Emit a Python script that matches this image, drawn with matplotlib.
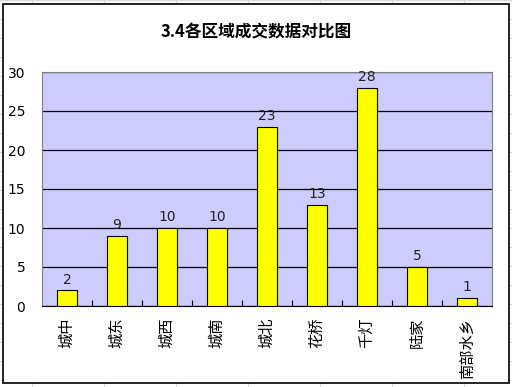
import matplotlib.pyplot as plt
from matplotlib.patches import Rectangle
from matplotlib.lines import Line2D

plt.rcParams['font.family'] = ['Noto Sans CJK SC', 'DejaVu Sans']

regions = ["城中", "城东", "城西", "城南", "城北", "花桥", "千灯", "陆家", "南部水乡"]
deals = [2, 9, 10, 10, 23, 13, 28, 5, 1]
y_ticks = [0, 5, 10, 15, 20, 25, 30]

W, H = 512, 387
fig = plt.figure(figsize=(W / 100, H / 100), dpi=100)

# spreadsheet grid behind the chart
for x in [32, 104, 176, 248, 320, 392, 464]:
    fig.add_artist(Line2D([x / W, x / W], [0, 1], color="#d8d8d8", lw=0.8, zorder=-3))
for y in range(0, H, 19):
    fig.add_artist(Line2D([0, 1], [1 - y / H, 1 - y / H], color="#d8d8d8", lw=0.8, zorder=-3))

# chart frame
fig.add_artist(Rectangle((3 / W, 4 / H), 506 / W, 379 / H, facecolor="white",
                         edgecolor="black", lw=1.2, transform=fig.transFigure, zorder=-2))

ax = fig.add_axes([42 / W, 1 - 306 / H, 450 / W, 234 / H])
ax.set_zorder(2)
ax.set_facecolor("#ccccff")
x = range(len(regions))
ax.bar(x, deals, width=0.4, color="#ffff00", edgecolor="black", lw=0.8, zorder=3)
for i, v in enumerate(deals):
    ax.text(i, v + 0.5, str(v), ha="center", va="bottom", fontsize=10,
            family="DejaVu Sans", color="#222222")

ax.set_xlim(-0.5, len(regions) - 0.5)
ax.set_ylim(0, 30)
ax.set_yticks(y_ticks)
ax.tick_params(axis="y", length=0, labelsize=10, pad=12)
for lab in ax.get_yticklabels():
    lab.set_family("DejaVu Sans")
ax.yaxis.grid(True, color="black", lw=0.9, zorder=1)
ax.set_axisbelow(True)

ax.set_xticks([i + 0.5 for i in range(len(regions) - 1)])
ax.set_xticklabels([])
ax.tick_params(axis="x", direction="in", length=4, width=0.8)
for i, name in enumerate(regions):
    ax.text(i, -1.5, name, ha="center", va="top", fontsize=11, rotation=90,
            rotation_mode="default")

for side in ["top", "right"]:
    ax.spines[side].set_color("#808080")
ax.spines["left"].set_color("#808080")
ax.spines["bottom"].set_color("black")

fig.text(0.5, 1 - 32 / H, "3.4各区域成交数据对比图", ha="center", va="center",
         fontsize=12, fontweight="bold", zorder=3)

fig.savefig("out.png", dpi=100)
